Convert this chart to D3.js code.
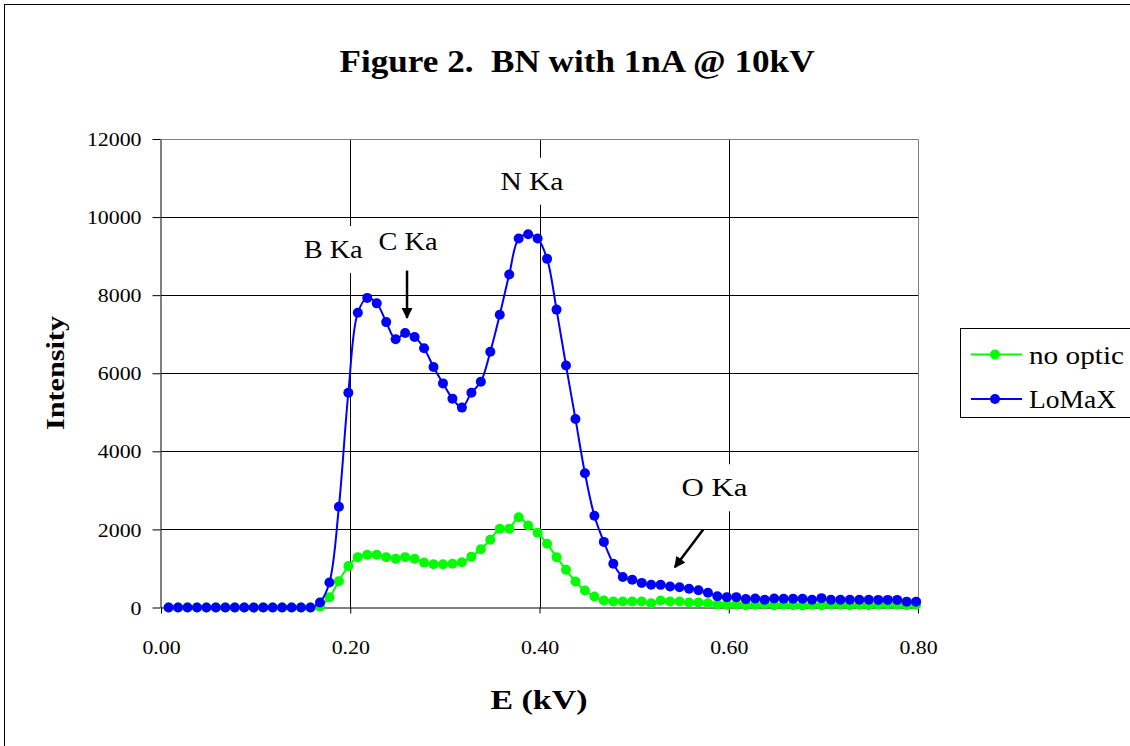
<!DOCTYPE html>
<html>
<head>
<meta charset="utf-8">
<script src="https://cdn.jsdelivr.net/npm/d3@7"></script>
<style>
  body { margin: 0; background: #fff; }
  svg text { font-family: "Liberation Serif", "DejaVu Serif", serif; fill: #000; }
</style>
</head>
<body>
<svg id="main_svg" width="1130" height="746"></svg>
<script>
// channel energies (kV)
const energy = [0.008,0.018,0.028,0.038,0.048,0.058,0.068,0.078,0.088,0.098,
  0.108,0.118,0.128,0.138,0.148,0.158,0.168,0.178,0.188,0.198,
  0.208,0.218,0.228,0.238,0.248,0.258,0.268,0.278,0.288,0.298,
  0.308,0.318,0.328,0.338,0.348,0.358,0.368,0.378,0.388,0.398,
  0.408,0.418,0.428,0.438,0.448,0.458,0.468,0.478,0.488,0.498,
  0.508,0.518,0.528,0.538,0.548,0.558,0.568,0.578,0.588,0.598,
  0.608,0.618,0.628,0.638,0.648,0.658,0.668,0.678,0.688,0.698,
  0.708,0.718,0.728,0.738,0.748,0.758,0.768,0.778,0.788,0.798]

const no_optic = [0,0,0,0,0,0,0,0,0,0,0,0,0,0,0,0,
  20,265,675,1060,1290,1350,1350,1290,1250,1290,1250,1150,1110,1110,
  1120,1160,1300,1490,1735,2015,2020,2310,2100,1915,1635,1290,965,665,
  435,280,180,155,155,155,155,110,180,155,155,130,130,110,80,70,
  80,60,70,90,60,70,60,50,70,60,80,70,60,70,60,70,80,70,60,70]

const lomax = [0,0,0,0,0,0,0,0,0,0,0,0,0,0,0,0,
  130,640,2580,5500,7550,7930,7790,7310,6870,7030,6930,6640,6160,5740,
  5350,5120,5500,5780,6550,7500,8530,9450,9560,9450,8930,7630,6200,4830,
  3440,2350,1680,1120,780,710,630,585,580,540,520,480,440,380,290,265,
  265,215,230,200,230,225,225,225,200,240,200,200,200,200,200,195,195,195,150,150]

const x_ticks = [0, 0.2, 0.4, 0.6, 0.8]
const y_ticks = [0, 2000, 4000, 6000, 8000, 10000, 12000]

const series_names = ["no optic", "LoMaX"]
const series_colors = ["#00ff00", "#0000ff"]

const peak_labels = [
  {text: "B Ka", x: 0.182, y: 8950, w: 59},
  {text: "C Ka", x: 0.261, y: 9150, w: 59},
  {text: "N Ka", x: 0.392, y: 10700, w: 63},
  {text: "O Ka", x: 0.585, y: 2850, w: 66}
]
const arrows = [
  {x1: 0.260, y1: 8630, x2: 0.260, y2: 7420},
  {x1: 0.573, y1: 2000, x2: 0.543, y2: 1030}
]

const serif = "'Liberation Serif', 'DejaVu Serif', serif"
const svg = d3.select("#main_svg")
const p_left = 161, p_right = 918, p_top = 139, p_bottom = 607.5

const x = d3.scaleLinear().domain([0, 0.8]).range([p_left, p_right])
const y = d3.scaleLinear().domain([0, 12000]).range([p_bottom, p_top])

// outer chart border
svg.append("rect")
    .attr("x", 4.5).attr("y", 4.5)
    .attr("width", 1140).attr("height", 760)
    .attr("fill", "none").attr("stroke", "#000")

// gridlines
svg.append("g").selectAll("line")
    .data(y_ticks.slice(1, -1))
    .join("line")
    .attr("x1", p_left).attr("x2", p_right)
    .attr("y1", d => Math.round(y(d)) + 0.5).attr("y2", d => Math.round(y(d)) + 0.5)
    .attr("stroke", "#000")
svg.append("g").selectAll("line")
    .data(x_ticks.slice(1, -1))
    .join("line")
    .attr("x1", d => Math.round(x(d)) + 0.5).attr("x2", d => Math.round(x(d)) + 0.5)
    .attr("y1", p_top).attr("y2", p_bottom)
    .attr("stroke", "#000")

// plot area border top / right
svg.append("path")
    .attr("d", `M${p_left},${p_top + 0.5}H${p_right + 0.5}V${p_bottom}`)
    .attr("fill", "none").attr("stroke", "#808080")

// axes
const xAxis = svg.append("g")
    .attr("transform", `translate(0,${p_bottom})`)
    .call(d3.axisBottom(x).tickValues(x_ticks).tickFormat(d3.format(".2f")).tickSize(6).tickSizeOuter(0))
const yAxis = svg.append("g")
    .attr("transform", `translate(${p_left - 0.5},0)`)
    .call(d3.axisLeft(y).tickValues(y_ticks).tickFormat(d => d).tickSize(8).tickSizeOuter(0))

for (const ax of [xAxis, yAxis]) {
    ax.attr("font-family", serif).attr("font-size", 19)
    ax.select(".domain").attr("stroke", "#000")
    ax.selectAll(".tick line").attr("stroke", "#000")
    ax.selectAll(".tick text")
        .attr("font-family", serif)
        .attr("font-size", 19)
        .attr("fill", "#000")
}
xAxis.selectAll(".tick text").attr("y", 0).attr("dy", 46)
yAxis.selectAll(".tick text").attr("x", -19).attr("dy", "0.35em")
// Garamond in the original is wider than Times: stretch tick labels a bit
svg.selectAll(".tick text").each(function () {
    const w = this.getComputedTextLength()
    d3.select(this).attr("textLength", w * 1.15).attr("lengthAdjust", "spacingAndGlyphs")
})

// series
const line = d3.line()
    .x(d => x(d[0]))
    .y(d => y(d[1]))
    .curve(d3.curveCatmullRom)

const all_series = [no_optic, lomax]
all_series.forEach((vals, k) => {
    const pts = energy.map((e, i) => [e, vals[i]])
    const g = svg.append("g")
    g.append("path")
        .datum(pts)
        .attr("d", line)
        .attr("fill", "none")
        .attr("stroke", series_colors[k])
        .attr("stroke-width", 2)
    g.selectAll("circle")
        .data(pts)
        .join("circle")
        .attr("cx", d => x(d[0]))
        .attr("cy", d => y(d[1]))
        .attr("r", 5)
        .attr("fill", series_colors[k])
})

// peak labels with white boxes
peak_labels.forEach(p => {
    const g = svg.append("g")
    const t = g.append("text")
        .attr("x", x(p.x)).attr("y", y(p.y))
        .attr("text-anchor", "middle")
        .attr("font-family", serif)
        .attr("font-size", 26)
        .attr("textLength", p.w)
        .attr("lengthAdjust", "spacingAndGlyphs")
        .text(p.text)
    const bb = t.node().getBBox()
    g.insert("rect", "text")
        .attr("x", bb.x - 4).attr("y", bb.y - 9)
        .attr("width", bb.width + 8).attr("height", bb.height + 18)
        .attr("fill", "#fff")
})

// arrows
svg.append("defs").append("marker")
    .attr("id", "head")
    .attr("viewBox", "0 0 10 10")
    .attr("refX", 9).attr("refY", 5)
    .attr("markerWidth", 4.5).attr("markerHeight", 4.5)
    .attr("orient", "auto")
    .append("path").attr("d", "M0,0L10,5L0,10Z").attr("fill", "#000")
svg.append("g").selectAll("line")
    .data(arrows)
    .join("line")
    .attr("x1", d => x(d.x1)).attr("y1", d => y(d.y1))
    .attr("x2", d => x(d.x2)).attr("y2", d => y(d.y2))
    .attr("stroke", "#000")
    .attr("stroke-width", 2.5)
    .attr("marker-end", "url(#head)")

// title and axis titles
svg.append("text")
    .attr("x", 577).attr("y", 72)
    .attr("text-anchor", "middle")
    .attr("font-family", serif)
    .attr("font-size", 31).attr("font-weight", "bold")
    .style("white-space", "pre")
    .attr("textLength", 475).attr("lengthAdjust", "spacingAndGlyphs")
    .text("Figure 2.  BN with 1nA @ 10kV")
svg.append("text")
    .attr("x", 539).attr("y", 709)
    .attr("text-anchor", "middle")
    .attr("font-family", serif)
    .attr("font-size", 28).attr("font-weight", "bold")
    .attr("textLength", 97).attr("lengthAdjust", "spacingAndGlyphs")
    .text("E (kV)")
svg.append("text")
    .attr("transform", "translate(64,373) rotate(-90)")
    .attr("text-anchor", "middle")
    .attr("font-family", serif)
    .attr("font-size", 26).attr("font-weight", "bold")
    .attr("textLength", 114).attr("lengthAdjust", "spacingAndGlyphs")
    .text("Intensity")

// legend
const legend = svg.append("g")
legend.append("rect")
    .attr("x", 960.5).attr("y", 328.5)
    .attr("width", 200).attr("height", 89)
    .attr("fill", "#fff").attr("stroke", "#000")
const legend_w = [95, 87]
series_names.forEach((name, k) => {
    const ly = 354.5 + k * 44.5
    legend.append("line")
        .attr("x1", 971).attr("x2", 1022)
        .attr("y1", ly).attr("y2", ly)
        .attr("stroke", series_colors[k]).attr("stroke-width", 2)
    legend.append("circle")
        .attr("cx", 995).attr("cy", ly).attr("r", 5)
        .attr("fill", series_colors[k])
    legend.append("text")
        .attr("x", 1029).attr("y", ly + 9)
        .attr("font-family", serif)
        .attr("font-size", 25)
        .attr("textLength", legend_w[k]).attr("lengthAdjust", "spacingAndGlyphs")
        .text(name)
})
</script>
</body>
</html>
